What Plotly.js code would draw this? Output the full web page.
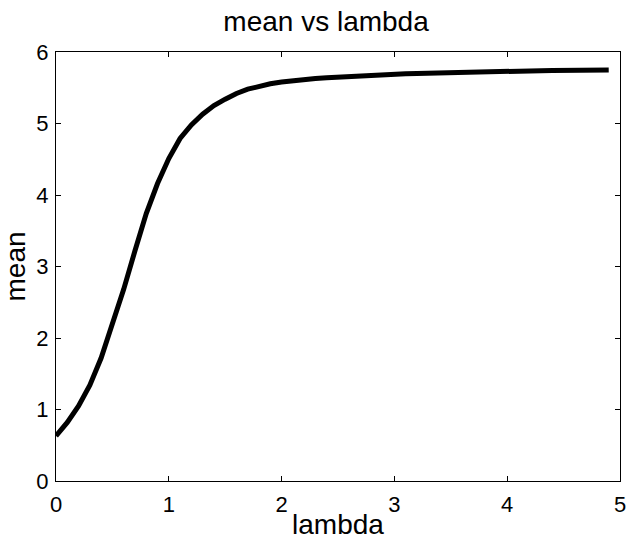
<!DOCTYPE html>
<html>
<head>
<meta charset="utf-8">
<script src="https://cdn.plot.ly/plotly-3.0.1.min.js"></script>
<style>html,body{margin:0;padding:0;background:#fff;}#chart{width:627px;height:540px;}</style>
</head>
<body>
<div id="chart"></div>
<script>
const lambda = [0,0.1,0.2,0.3,0.4,0.5,0.6,0.7,0.8,0.9,
  1.0,1.1,1.2,1.3,1.4,1.5,1.6,1.7,1.8,1.9,
  2.0,2.1,2.2,2.3,2.4,2.5,2.6,2.7,2.8,2.9,
  3.0,3.1,3.2,3.3,3.4,3.5,3.6,3.7,3.8,3.9,
  4.0,4.1,4.2,4.3,4.4,4.5,4.6,4.7,4.8,4.9];
const meanVals = [0.63,0.82,1.05,1.34,1.72,2.18,2.68,3.22,3.74,4.16,
  4.51,4.79,4.98,5.13,5.25,5.34,5.42,5.48,5.525,5.555,
  5.58,5.60,5.615,5.628,5.64,5.65,5.66,5.668,5.675,5.682,
  5.69,5.695,5.70,5.705,5.71,5.715,5.72,5.722,5.725,5.728,
  5.73,5.733,5.736,5.739,5.741,5.743,5.745,5.747,5.749,5.75];
const xTicks = [0,1,2,3,4,5];
const yTicks = [0,1,2,3,4,5,6];
const FONT = '"Liberation Sans", Arial, Helvetica, sans-serif';

const trace = {x: lambda, y: meanVals, mode: 'lines', type: 'scatter',
  line: {color: '#000', width: 5}, hoverinfo: 'skip'};

const axisCommon = {
  showgrid: false, zeroline: false, showline: true, linecolor: '#000', linewidth: 1,
  mirror: 'ticks', ticks: 'inside', ticklen: 5, tickwidth: 1, tickcolor: '#000',
  tickfont: {family: FONT, size: 22, color: '#000'}, automargin: false
};

const layout = {
  width: 627, height: 540,
  margin: {l: 56, r: 7, t: 52, b: 59, pad: 0},
  paper_bgcolor: '#fff', plot_bgcolor: '#fff',
  showlegend: false,
  title: {text: 'mean vs lambda', font: {family: FONT, size: 28, color: '#000'},
    xref: 'container', x: 0.52, xanchor: 'center', yref: 'container', y: 1 - 21/540, yanchor: 'middle'},
  xaxis: Object.assign({}, axisCommon, {range: [0, 5], tickvals: xTicks, ticktext: xTicks.map(String),
    ticklabelstandoff: 4,
    title: {text: 'lambda', font: {family: FONT, size: 28, color: '#000'}, standoff: 7}}),
  yaxis: Object.assign({}, axisCommon, {range: [0, 6], tickvals: yTicks, ticktext: yTicks.map(String),
    ticklabelstandoff: 2,
    title: {text: 'mean', font: {family: FONT, size: 28, color: '#000'}, standoff: 8}})
};

Plotly.newPlot('chart', [trace], layout, {displayModeBar: false, staticPlot: true});
</script>
</body>
</html>
